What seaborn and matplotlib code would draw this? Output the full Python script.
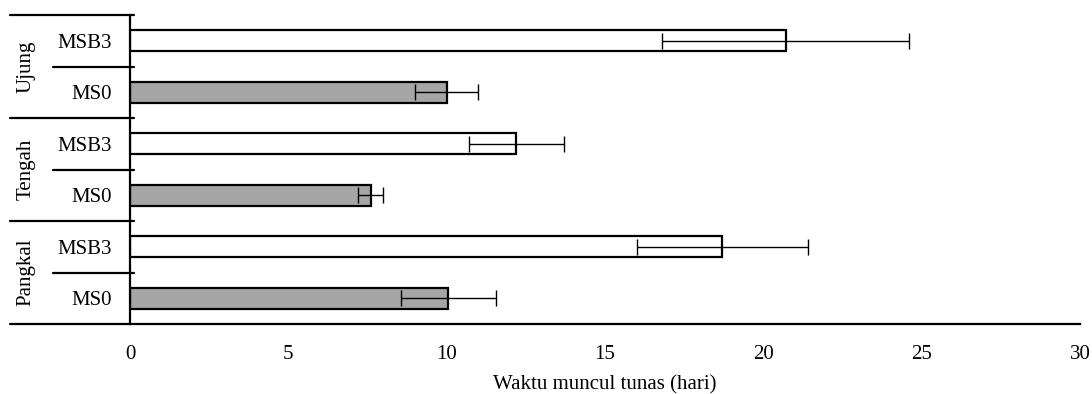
import matplotlib
matplotlib.use("Agg")
import matplotlib.pyplot as plt
import matplotlib.transforms as mtransforms
import seaborn as sns
import pandas as pd

sns.set_theme(style="white")
plt.rcParams['font.family'] = ['Liberation Serif', 'DejaVu Serif']
plt.rcParams['text.color'] = 'black'
plt.rcParams['axes.labelcolor'] = 'black'
plt.rcParams['xtick.color'] = 'black'
plt.rcParams['ytick.color'] = 'black'

# Data (top to bottom)
groups = ["Ujung", "Ujung", "Tengah", "Tengah", "Pangkal", "Pangkal"]
treatments = ["MSB3", "MS0", "MSB3", "MS0", "MSB3", "MS0"]
values = [20.7, 10.0, 12.2, 7.6, 18.7, 10.05]
errors = [3.9, 1.0, 1.5, 0.4, 2.7, 1.5]
group_names = ["Ujung", "Tengah", "Pangkal"]
xticks = [0, 5, 10, 15, 20, 25, 30]

df = pd.DataFrame({
    "row": [f"{g} {t}" for g, t in zip(groups, treatments)],
    "Perlakuan": treatments,
    "Waktu": values,
    "sd": errors,
})

fig = plt.figure(figsize=(10.92, 3.94), dpi=100)
ax = fig.add_axes([130 / 1092, 1 - 324 / 394, 950 / 1092, 309 / 394])

sns.barplot(data=df, y="row", x="Waktu", hue="Perlakuan", dodge=False,
            palette={"MSB3": "white", "MS0": "#a6a6a6"}, width=0.41,
            edgecolor="black", linewidth=1.6, legend=False, ax=ax)

# error bars at bar centres
ypos = range(len(df))
ax.errorbar(df["Waktu"], ypos, xerr=df["sd"], fmt="none", ecolor="black",
            elinewidth=1.0, capsize=6, capthick=1.0, zorder=5)

fs = 15
ax.set_xlim(0, 30)
ax.set_ylim(5.5, -0.5)
ax.set_xticks(xticks)
ax.tick_params(axis="x", direction="out", length=5, width=1, color="black",
               labelsize=fs, pad=10)
ax.set_yticks(list(ypos))
ax.set_yticklabels(treatments)
ax.tick_params(axis="y", length=0, labelsize=fs, pad=13)
ax.set_ylabel("")
ax.set_xlabel("Waktu muncul tunas (hari)", fontsize=fs, labelpad=8)

for s in ["top", "right"]:
    ax.spines[s].set_visible(False)
for s in ["left", "bottom"]:
    ax.spines[s].set_color("black")
    ax.spines[s].set_linewidth(1.6)

trans = mtransforms.blended_transform_factory(ax.transAxes, ax.transData)
x_far = -120 / 950
x_mid = -77 / 950
# x-axis extension to the left
ax.plot([x_far, 0], [5.5, 5.5], transform=trans, color="black", lw=1.6,
        clip_on=False)
# group boundaries
for yb in [-0.5, 1.5, 3.5]:
    ax.plot([x_far, 0.004], [yb, yb], transform=trans, color="black", lw=1.6,
            clip_on=False)
# sub boundaries within groups
for yb in [0.5, 2.5, 4.5]:
    ax.plot([x_mid, 0.004], [yb, yb], transform=trans, color="black", lw=1.6,
            clip_on=False)
# group labels
for i, g in enumerate(group_names):
    ax.text(-104 / 950, 2 * i + 0.5, g, transform=trans, rotation=90,
            ha="center", va="center", fontsize=fs)

fig.savefig("out.png", dpi=100)
